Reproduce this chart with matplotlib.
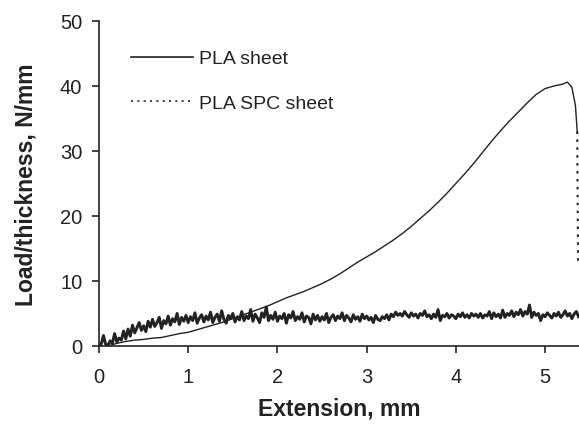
import numpy as np
import matplotlib.pyplot as plt
from matplotlib.lines import Line2D

plt.rcParams['font.family'] = ['Liberation Sans', 'DejaVu Sans']

pla_step = 0.025
pla_load = [
    0.0, 0.3, 1.6, 0.2, 0.1, 0.8, 0.4, 1.9, 0.6, 1.2,
    0.9, 2.3, 1.1, 2.6, 1.5, 3.2, 2.0, 2.8, 3.6, 2.4,
    3.1, 2.2, 3.8, 2.9, 4.1, 3.0, 3.6, 4.4, 2.7, 3.9,
    3.4, 4.6, 3.2, 4.2, 3.7, 5.0, 3.3, 4.4, 3.8, 4.7,
    3.6, 4.5, 3.9, 5.1, 3.5, 4.3, 4.8, 3.7, 4.6, 4.0,
    5.2, 3.6, 4.4, 4.9, 3.8, 5.4, 4.1, 3.5, 4.7, 4.2,
    5.0, 3.7, 4.5, 4.0, 5.3, 3.9, 4.6, 4.2, 5.6, 3.8,
    4.9, 4.3, 3.6, 5.1, 4.4, 6.0, 3.9, 4.7, 4.1, 5.2,
    3.8, 4.6, 4.2, 5.0, 3.5, 4.8, 4.3, 5.3, 3.9, 4.5,
    4.1, 5.1, 3.7, 4.6, 4.4, 3.4, 4.9, 4.0, 4.7, 3.8,
    4.5, 4.0, 5.0, 3.6, 4.4, 4.8, 3.9, 4.6, 4.2, 5.1,
    3.9, 4.7, 4.3, 3.7, 4.8, 4.1, 4.5, 3.8, 4.9, 4.2,
    4.6, 4.0, 4.4, 3.6, 4.7, 4.1, 3.9, 4.5, 4.2, 4.8,
    4.0, 4.9, 4.5, 5.2, 4.7, 5.0, 4.6, 5.3, 4.8, 4.4,
    5.1, 4.6, 4.9, 4.3, 5.0, 4.7, 5.4, 4.5, 4.8, 4.2,
    4.9, 4.4, 5.6, 3.9, 4.7, 4.5, 5.0, 4.3, 4.8, 4.6,
    4.2, 4.9, 4.5, 5.1, 4.4, 4.8, 4.3, 5.0, 4.6, 4.9,
    4.4, 5.0, 4.3, 4.8, 4.6, 5.3, 4.2, 5.1, 4.5, 4.9,
    4.3, 5.5, 4.4, 5.0, 4.7, 5.4, 4.5, 5.2, 4.8, 5.6,
    4.6, 5.3, 4.9, 6.3, 4.4, 5.2, 4.7, 5.0, 3.9, 4.8,
    4.5, 5.1, 4.7, 4.3, 5.0, 4.6, 5.2, 4.4, 4.8, 5.4,
    4.6, 5.0, 4.2, 4.9, 5.3, 4.5,
]
pla_ext = np.arange(len(pla_load)) * pla_step

# PLA SPC sheet
spc_ext = [0.10, 0.2, 0.3, 0.4, 0.5, 0.6, 0.7, 0.8, 0.9, 1.0,
           1.1, 1.2, 1.3, 1.4, 1.5, 1.6, 1.7, 1.8, 1.9, 2.0,
           2.1, 2.2, 2.3, 2.4, 2.5, 2.6, 2.7, 2.8, 2.9, 3.0,
           3.1, 3.2, 3.3, 3.4, 3.5, 3.6, 3.7, 3.8, 3.9, 4.0,
           4.1, 4.2, 4.3, 4.4, 4.5, 4.6, 4.7, 4.8, 4.9, 5.0,
           5.1, 5.2, 5.25, 5.3, 5.34, 5.36, 5.37]
spc_load = [0.0, 0.4, 0.7, 0.9, 1.0, 1.2, 1.3, 1.6, 1.9, 2.1,
            2.5, 2.9, 3.3, 3.7, 4.2, 4.7, 5.2, 5.7, 6.2, 6.8,
            7.4, 7.9, 8.4, 9.0, 9.6, 10.3, 11.1, 12.0, 12.9, 13.7,
            14.5, 15.4, 16.3, 17.3, 18.4, 19.6, 20.8, 22.1, 23.5, 25.0,
            26.5, 28.1, 29.8, 31.5, 33.1, 34.6, 36.0, 37.4, 38.7, 39.6,
            40.0, 40.3, 40.6, 39.8, 37.0, 33.0, 12.5]

ink = "#222222"
dotted = (0, (1.2, 2.6))

fig = plt.figure(figsize=(5.79, 4.31), dpi=100)
ax = fig.add_axes([0.171, 0.195, 0.829, 0.754])

ax.plot(pla_ext, pla_load, color=ink, lw=2.1)
ax.plot(spc_ext[:-1], spc_load[:-1], color=ink, lw=1.0)
ax.plot(spc_ext[-2:], spc_load[-2:], color=ink, lw=1.5, linestyle=dotted)

ax.set_xlim(0, 5.38)
ax.set_ylim(0, 50)
ax.set_xticks([0, 1, 2, 3, 4, 5])
ax.set_yticks([0, 10, 20, 30, 40, 50])
ax.spines["top"].set_visible(False)
ax.spines["right"].set_visible(False)
for s in ("left", "bottom"):
    ax.spines[s].set_color(ink)
    ax.spines[s].set_linewidth(1.2)
ax.tick_params(axis="both", direction="out", length=5, width=1.2,
               colors=ink, labelsize=14.5)
ax.tick_params(axis="x", pad=10)
ax.tick_params(axis="y", pad=7)

ax.set_xlabel("Extension, mm", fontsize=16.5, fontweight="bold", color=ink, labelpad=8)
ax.set_ylabel("Load/thickness, N/mm", fontsize=16.5, fontweight="bold", color=ink, labelpad=16)

handles = [Line2D([], [], color=ink, lw=1.2),
           Line2D([], [], color=ink, lw=1.2, linestyle=dotted)]
ax.legend(handles, ["PLA sheet", "PLA SPC sheet"], loc="upper left",
          bbox_to_anchor=(0.03, 0.965), frameon=False, fontsize=14,
          handlelength=3.2, handletextpad=0.3, labelspacing=1.4,
          labelcolor=ink)

fig.savefig("out.png", dpi=100)
